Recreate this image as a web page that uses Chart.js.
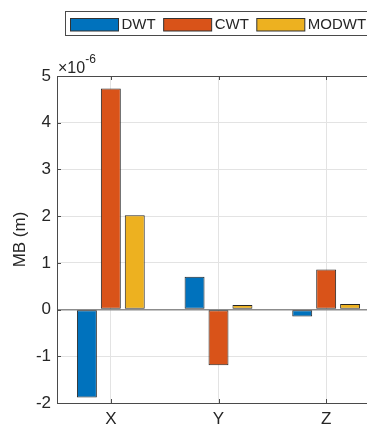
<!DOCTYPE html>
<html>
<head>
<meta charset="utf-8">
<script src="https://cdn.jsdelivr.net/npm/chart.js@4.4.1/dist/chart.umd.min.js"></script>
<style>
  html, body { margin: 0; padding: 0; overflow: hidden; background: #fff; }
  canvas { display: block; }
</style>
</head>
<body>
<canvas id="myChart" width="385" height="426"></canvas>
<script>
// values are in units of 1e-6 m (the axis shows x10^-6)
const categories = ['X', 'Y', 'Z']
const seriesNames = ['DWT', 'CWT', 'MODWT']
const dwt = [-1.88, 0.70, -0.15]
const cwt = [4.73, -1.19, 0.86]
const modwt = [2.02, 0.10, 0.12]
const seriesColors = ['#0072BD', '#D95319', '#EDB120']
const yMin = -2
const yMax = 5
const exponent = '-6'

const textColor = '#262626'
const fontFamily = '"Liberation Sans", Arial, sans-serif'

// draws the matlab-like box, inward ticks, exponent and boxed legend
const matlabLook = {
  id: 'matlabLook',
  afterDraw(chart) {
    const ctx = chart.ctx
    const a = chart.chartArea
    const yScale = chart.scales.y
    const xScale = chart.scales.x
    ctx.save()
    ctx.strokeStyle = '#4a4a4a'
    ctx.lineWidth = 1
    ctx.strokeRect(Math.round(a.left) + 0.5, Math.round(a.top) + 0.5, a.right - a.left, a.bottom - a.top)

    // inward ticks
    ctx.beginPath()
    yScale.ticks.forEach(t => {
      const y = Math.round(yScale.getPixelForValue(t.value)) + 0.5
      ctx.moveTo(a.left, y)
      ctx.lineTo(a.left + 4, y)
    })
    categories.forEach((c, i) => {
      const x = Math.round(xScale.getPixelForValue(i)) + 0.5
      ctx.moveTo(x, a.bottom)
      ctx.lineTo(x, a.bottom - 4)
      ctx.moveTo(x, a.top)
      ctx.lineTo(x, a.top + 4)
    })
    ctx.stroke()

    // exponent label
    ctx.fillStyle = textColor
    ctx.textBaseline = 'alphabetic'
    ctx.textAlign = 'left'
    ctx.font = '16px ' + fontFamily
    ctx.fillText('\u00d710', a.left + 1, a.top - 3)
    const w = ctx.measureText('\u00d710').width
    ctx.font = '12px ' + fontFamily
    ctx.fillText(exponent, a.left + 1 + w, a.top - 13)

    // legend
    const boxLeft = 65, boxTop = 11, boxBottom = 35
    const boxRight = 2 * ((a.left + a.right) / 2) - boxLeft
    ctx.strokeStyle = '#4a4a4a'
    ctx.fillStyle = '#fff'
    ctx.fillRect(boxLeft, boxTop, boxRight - boxLeft, boxBottom - boxTop)
    ctx.strokeRect(boxLeft + 0.5, boxTop + 0.5, boxRight - boxLeft, boxBottom - boxTop)
    ctx.font = '15px ' + fontFamily
    ctx.textBaseline = 'middle'
    let x = 70.5
    chart.data.datasets.forEach(ds => {
      ctx.fillStyle = ds.backgroundColor
      ctx.fillRect(x, 18.5, 48, 12.5)
      ctx.strokeStyle = '#333'
      ctx.strokeRect(x, 18.5, 48, 12.5)
      ctx.fillStyle = textColor
      ctx.fillText(ds.label, x + 51, 25)
      x += 51 + ctx.measureText(ds.label).width + 8
    })
    ctx.restore()
  }
}

new Chart(document.getElementById('myChart'), {
  type: 'bar',
  data: {
    labels: categories,
    datasets: [dwt, cwt, modwt].map((vals, i) => ({
      label: seriesNames[i],
      data: vals,
      backgroundColor: seriesColors[i],
      borderColor: '#262626',
      borderWidth: 1,
      borderSkipped: false,
      categoryPercentage: 0.667,
      barPercentage: 0.833
    }))
  },
  options: {
    responsive: false,
    animation: false,
    layout: { padding: { top: 76, right: 5, left: 0, bottom: 0 } },
    plugins: {
      legend: { display: false },
      tooltip: { enabled: false }
    },
    scales: {
      x: {
        grid: { offset: false, color: '#e3e3e3', drawTicks: false },
        border: { display: false },
        ticks: { color: textColor, font: { size: 17, family: fontFamily }, padding: 6 },
        afterFit: s => { s.height = 23 }
      },
      y: {
        min: yMin,
        max: yMax,
        ticks: { stepSize: 1, color: textColor, font: { size: 17, family: fontFamily }, padding: 6 },
        grid: {
          drawTicks: false,
          color: c => c.tick && c.tick.value === 0 ? '#8c8c8c' : '#e3e3e3',
          lineWidth: c => c.tick && c.tick.value === 0 ? 1.5 : 1
        },
        border: { display: false },
        title: {
          display: true,
          text: 'MB (m)',
          color: textColor,
          font: { size: 17, family: fontFamily },
          padding: { top: 10, bottom: 0 }
        },
        afterFit: s => { s.width = 57 }
      }
    }
  },
  plugins: [matlabLook]
})
</script>
</body>
</html>
